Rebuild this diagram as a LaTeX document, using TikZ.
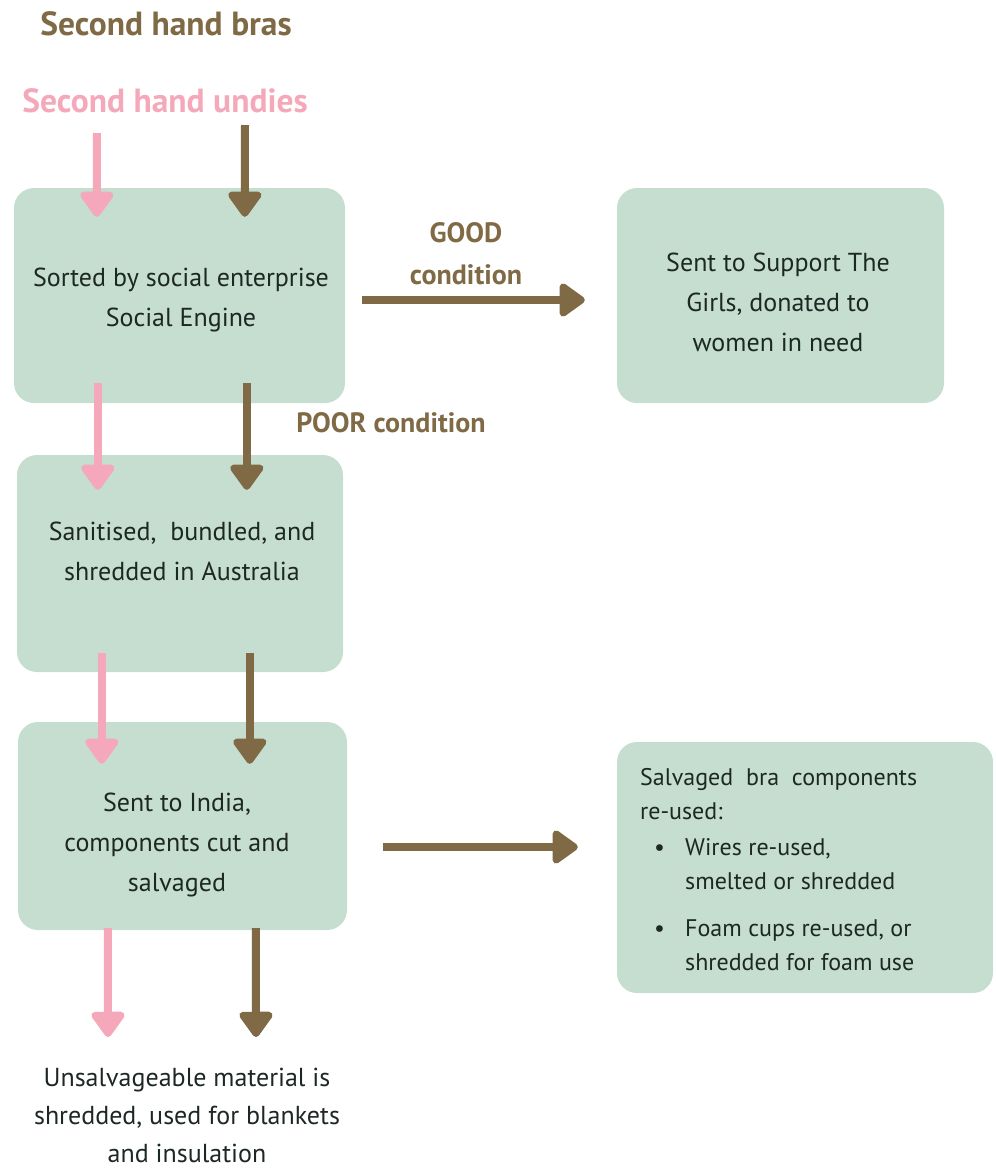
\documentclass[tikz,border=0pt]{standalone}
\usepackage{fontspec}
\setmainfont{PT Sans}
\usetikzlibrary{arrows.meta,calc}
\definecolor{boxg}{HTML}{C5DED0}
\definecolor{brn}{HTML}{7F6A45}
\definecolor{pnk}{HTML}{F4A8BA}
\definecolor{txt}{HTML}{1E2823}
\begin{document}
\begin{tikzpicture}[x=1pt,y=-1pt,
  box/.style={fill=boxg, rounded corners=20pt, inner sep=0pt, minimum width=#1},
  box/.default=330pt,
  btext/.style={align=center, text=txt, font=\fontsize{26}{40}\selectfont, inner sep=0pt},
  ltext/.style={align=center, text=brn, font=\bfseries\fontsize{28}{42}\selectfont, inner sep=0pt},
  arr/.style={line width=8pt, -{Triangle[width=38pt,length=28pt,round]}},
  parr/.style={arr, draw=pnk, color=pnk},
  barr/.style={arr, draw=brn, color=brn}]
\useasboundingbox (0,0) rectangle (996,1168);

% titles
\node[ltext, font=\bfseries\fontsize{33.5}{40}\selectfont] (tbras) at (166,24) {Second hand bras};
\node[ltext, text=pnk, font=\bfseries\fontsize{33.5}{40}\selectfont] (tundies) at (165,101) {Second hand undies};

% boxes
\node[box=331pt, minimum height=215pt] (b1) at (179.5,295.5) {};
\node[box=327pt, minimum height=215pt] (b2) at (780.5,295.5) {};
\node[box=326pt, minimum height=217pt] (b3) at (180,563.5) {};
\node[box=329pt, minimum height=208pt] (b4) at (182.5,826) {};
\node[box=376pt, minimum height=251pt] (b5) at (805,867.5) {};

% box texts
\node[btext] (t1) at (181,300) {Sorted by social enterprise\\Social Engine};
\node[btext] (t2) at (778,302) {Sent to Support The\\Girls, donated to\\women in need};
\node[btext] (t3) at (182,551) {Sanitised,\ \ bundled, and\\shredded in Australia};
\node[btext] (t4) at (177,845) {Sent to India,\\components cut and\\salvaged};
\node[btext, align=left, anchor=north west, font=\fontsize{24}{34}\selectfont] (t5) at (640,768)
  {Salvaged\ \ bra\ \ components\\
   re-used:\\[2pt]
   \makebox[45pt][l]{\hspace*{14pt}\textbullet}Wires re-used,\\
   \hspace*{45pt}smelted or shredded\\[13pt]
   \makebox[45pt][l]{\hspace*{14pt}\textbullet}Foam cups re-used, or\\
   \hspace*{45pt}shredded for foam use};
\node[btext, font=\fontsize{26}{38}\selectfont] (bt) at (187,1115)
  {Unsalvageable material is\\shredded, used for blankets\\and insulation};

% labels
\node[ltext] (good) at (466,254) {GOOD\\condition};
\node[ltext] (poor) at (391,423) {POOR condition};

% free ends
\coordinate (ps) at (97,133);
\coordinate (bs) at (245,125);
\coordinate (pe) at (108,1037);
\coordinate (be) at (256,1037);

% vertical arrows
\draw[parr] (ps) -- ($(b1.north west)+(83,29)$);
\draw[barr] (bs) -- ($(b1.north west)+(231,29)$);
\draw[parr] ($(b1.south west)+(84,-20)$) -- ($(b3.north west)+(81,35)$);
\draw[barr] ($(b1.south west)+(233,-20)$) -- ($(b3.north west)+(230,35)$);
\draw[parr] ($(b3.south west)+(85,-19)$) -- ($(b4.north west)+(84,42)$);
\draw[barr] ($(b3.south west)+(233,-19)$) -- ($(b4.north west)+(232,42)$);
\draw[parr] ($(b4.south west)+(90,-2)$) -- (pe);
\draw[barr] ($(b4.south west)+(238,-2)$) -- (be);

% horizontal arrows
\draw[barr] ($(b1.east)+(17,4.5)$) -- ($(b2.west)+(-32,4.5)$);
\draw[barr] ($(b4.east)+(36,21)$) -- ($(b5.west)+(-39,-20.5)$);
\end{tikzpicture}
\end{document}
